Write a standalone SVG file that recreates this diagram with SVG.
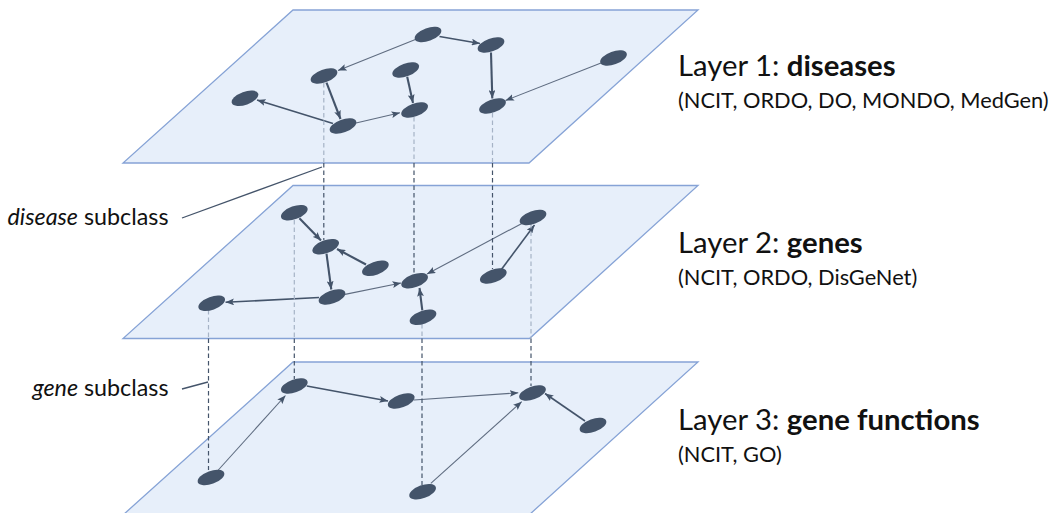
<svg xmlns="http://www.w3.org/2000/svg" width="1062" height="513" viewBox="0 0 1062 513">
<defs>
<style>
.plane{fill:#E7EFFA;stroke:#86A3D6;stroke-width:1.3}
.node{fill:#44546A}
.e{fill:none;stroke:#44546A;marker-end:url(#arr)}
.thin{stroke-width:1.1;stroke:#5F6C80}
.mid{stroke-width:1.6}
.thick{stroke-width:2.1}
.dd{fill:none;stroke:#44546A;stroke-width:1.2;stroke-dasharray:4.5 3}
.dl{fill:none;stroke:#A6B3C6;stroke-width:1.2;stroke-dasharray:4.5 3}
.lead{fill:none;stroke:#44546A;stroke-width:1.3}
.t{font-family:Lato,"Open Sans",sans-serif;fill:#111}
.big{font-size:29.3px}
.small{font-size:21.8px}
.lab{font-size:23.3px;text-anchor:end}
</style>
<marker id="arr" viewBox="0 0 10 8" refX="10" refY="4" markerUnits="userSpaceOnUse" markerWidth="8.5" markerHeight="6.8" orient="auto">
<path d="M0,0 L10,4 L0,8 L2,4 z" fill="#44546A"/>
</marker>
<ellipse id="ell" rx="14" ry="6.5" transform="rotate(-20)"/>
</defs>

<g id="planes">
<polygon id="plane1" class="plane" points="293,10 698,10 529,163 123,163"/>
<polygon id="plane2" class="plane" points="293,185.5 698,185.5 529.5,338.5 123,338.5"/>
<polygon id="plane3" class="plane" points="293,362 698,362 529,515 123,515"/>
</g>

<g id="connectors">
<!-- layer 1 edges -->
<path class="e thin" d="M416,39.3 L338,70.5"/>
<path class="e mid" d="M439.5,36.5 L480,43.5"/>
<path class="e thick" d="M491,52.5 L492.3,98.5"/>
<path class="e thin" d="M601,63 L505.5,100.5"/>
<path class="e thick" d="M326.5,82.6 L340.5,119"/>
<path class="e thick" d="M407.2,76.8 L413,103"/>
<path class="e mid" d="M333,123.5 L257,100"/>
<path class="e thin" d="M356,123 L400,112.8"/>
<!-- layer 2 edges -->
<path class="e thick" d="M299.4,218.3 L321,240.5"/>
<path class="e thick" d="M366,264.5 L337,249"/>
<path class="e thick" d="M326.5,253.7 L331.3,289.5"/>
<path class="e mid" d="M319,297.5 L225.5,302.3"/>
<path class="e thin" d="M345,294.4 L401,283"/>
<path class="e thick" d="M422.3,310.3 L419.5,288"/>
<path class="e thin" d="M521.9,223.4 L427,274"/>
<path class="e mid" d="M501,270 L534.5,225"/>
<!-- layer 3 edges -->
<path class="e thin" d="M218.3,470 L285.5,395.5"/>
<path class="e mid" d="M306.8,386 L388,401"/>
<path class="e thin" d="M414,400 L518.3,392.8"/>
<path class="e thin" d="M430.8,483.3 L521.7,401.7"/>
<path class="e mid" d="M585,421 L545,393.5"/>
<!-- subclass dashed links -->
<path class="dl" d="M323.8,83 V163"/>
<path class="dd" d="M323.8,163 V240"/>
<path class="dl" d="M414,117 V163"/>
<path class="dd" d="M414,163 V274"/>
<path class="dl" d="M492.5,113 V163"/>
<path class="dd" d="M492.5,163 V269"/>
<path class="dl" d="M208.5,310 V338.5"/>
<path class="dd" d="M208.5,338.5 V470"/>
<path class="dl" d="M294.3,220 V338.5"/>
<path class="dd" d="M294.3,338.5 V379"/>
<path class="dl" d="M422,324 V338.5"/>
<path class="dd" d="M422,338.5 V485"/>
<path class="dl" d="M531,224 V338.5"/>
<path class="dd" d="M531,338.5 V386"/>
<!-- label leaders -->
<path class="lead" d="M182,218 L322,167"/>
<path class="lead" d="M182,389 L208,382"/>
</g>

<g id="nodes-layer1" class="node">
<g id="n1a" transform="translate(428,34.5)"><use href="#ell"/></g>
<g id="n1b" transform="translate(491,45)"><use href="#ell"/></g>
<g id="n1c" transform="translate(613.5,58)"><use href="#ell"/></g>
<g id="n1d" transform="translate(324,76)"><use href="#ell"/></g>
<g id="n1e" transform="translate(405.7,70)"><use href="#ell"/></g>
<g id="n1f" transform="translate(245,98.3)"><use href="#ell"/></g>
<g id="n1g" transform="translate(343,126)"><use href="#ell"/></g>
<g id="n1h" transform="translate(414.6,110)"><use href="#ell"/></g>
<g id="n1i" transform="translate(492.5,106)"><use href="#ell"/></g>
</g>
<g id="nodes-layer2" class="node">
<g id="n2a" transform="translate(294.3,212.7)"><use href="#ell"/></g>
<g id="n2b" transform="translate(325.7,246.7)"><use href="#ell"/></g>
<g id="n2c" transform="translate(211.7,303.3)"><use href="#ell"/></g>
<g id="n2d" transform="translate(332,297)"><use href="#ell"/></g>
<g id="n2e" transform="translate(375.4,268.3)"><use href="#ell"/></g>
<g id="n2f" transform="translate(414.6,280.7)"><use href="#ell"/></g>
<g id="n2g" transform="translate(423,317.3)"><use href="#ell"/></g>
<g id="n2h" transform="translate(493.3,276)"><use href="#ell"/></g>
<g id="n2i" transform="translate(533,217.5)"><use href="#ell"/></g>
</g>
<g id="nodes-layer3" class="node">
<g id="n3a" transform="translate(211,477.5)"><use href="#ell"/></g>
<g id="n3b" transform="translate(294.3,386)"><use href="#ell"/></g>
<g id="n3c" transform="translate(401.2,401)"><use href="#ell"/></g>
<g id="n3d" transform="translate(532.5,393)"><use href="#ell"/></g>
<g id="n3e" transform="translate(593,425.5)"><use href="#ell"/></g>
<g id="n3f" transform="translate(422.6,491.7)"><use href="#ell"/></g>
</g>

<g id="labels">
<text class="t big" x="678" y="76">Layer 1: <tspan font-weight="bold">diseases</tspan></text>
<text class="t small" x="678" y="108">(NCIT, ORDO, DO, MONDO, MedGen)</text>
<text class="t big" x="678" y="253">Layer 2: <tspan font-weight="bold">genes</tspan></text>
<text class="t small" x="678" y="285">(NCIT, ORDO, DisGeNet)</text>
<text class="t big" x="678" y="430">Layer 3: <tspan font-weight="bold">gene functions</tspan></text>
<text class="t small" x="678" y="461.5">(NCIT, GO)</text>
<text class="t lab" x="168.5" y="225"><tspan font-style="italic">disease</tspan> subclass</text>
<text class="t lab" x="168.5" y="396"><tspan font-style="italic">gene</tspan> subclass</text>
</g>
</svg>
